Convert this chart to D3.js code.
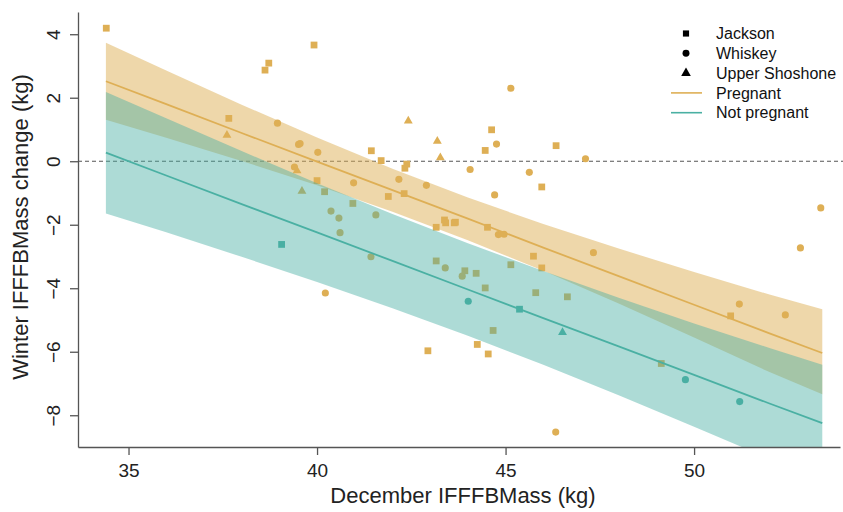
<!DOCTYPE html>
<html>
<head>
<meta charset="utf-8">
<script src="https://cdn.jsdelivr.net/npm/d3@7"></script>
<style>
  html, body { margin: 0; padding: 0; background: #fff; }
  svg { display: block; font-family: "Liberation Sans", Arial, sans-serif; }
</style>
</head>
<body>
<svg id="chart" width="843" height="512"></svg>
<script>
// Individual animals: December mass (x), winter change (y), herd and pregnancy status
const pointX = [
  34.41, 39.92, 38.72, 38.62, 37.66, 37.61, 38.95, 39.51, 39.55, 40.02,
  39.40, 39.47, 40.00, 39.60, 40.20, 40.97, 40.95, 40.37, 40.58, 41.44,
  41.70, 42.17, 41.89, 41.56, 40.61, 41.43, 40.22, 45.14, 42.42, 44.63,
  43.19, 44.76, 44.46, 46.34, 43.27, 47.12, 42.38, 42.33, 44.06, 45.63,
  42.90, 45.96, 44.71, 42.31, 43.38, 43.41, 43.64, 43.67, 43.16, 44.52,
  44.81, 44.96, 45.74, 45.96, 43.16, 43.40, 43.92, 43.85, 44.22, 45.14,
  44.46, 45.80, 46.64, 44.67, 42.94, 44.25, 44.54, 46.33, 47.33, 53.36,
  52.82, 51.20, 50.97, 52.42, 49.13,
  39.06, 44.01, 45.37, 46.51, 49.77, 51.21
];
const pointY = [
  4.19, 3.66, 3.09, 2.87, 1.35, 0.82, 1.20, 0.53, 0.56, 0.28,
  -0.18, -0.30, -0.61, -0.94, -0.96, -0.68, -1.33, -1.57, -1.79, 0.33,
  0.02, -0.57, -1.11, -1.69, -2.25, -3.01, -4.15, 2.30, 1.27, 0.99,
  0.63, 0.54, 0.34, 0.49, 0.11, 0.08, -0.09, -0.22, -0.26, -0.35,
  -0.76, -0.81, -1.06, -1.02, -1.85, -1.94, -1.94, -1.92, -2.08, -2.08,
  -2.31, -2.30, -2.99, -3.36, -3.14, -3.36, -3.45, -3.62, -3.53, -3.26,
  -3.99, -4.14, -4.27, -5.33, -5.97, -5.77, -6.07, -8.53, -2.88, -1.47,
  -2.73, -4.50, -4.87, -4.84, -6.37,
  -2.62, -4.41, -4.66, -5.39, -6.88, -7.57
];
const pointSite = [
  "Jackson", "Jackson", "Jackson", "Jackson", "Jackson", "Upper Shoshone", "Whiskey", "Whiskey", "Whiskey", "Whiskey",
  "Whiskey", "Upper Shoshone", "Jackson", "Upper Shoshone", "Jackson", "Whiskey", "Jackson", "Whiskey", "Whiskey", "Jackson",
  "Jackson", "Whiskey", "Jackson", "Whiskey", "Whiskey", "Whiskey", "Whiskey", "Whiskey", "Upper Shoshone", "Jackson",
  "Upper Shoshone", "Whiskey", "Jackson", "Jackson", "Upper Shoshone", "Whiskey", "Jackson", "Jackson", "Whiskey", "Whiskey",
  "Whiskey", "Jackson", "Whiskey", "Jackson", "Jackson", "Jackson", "Jackson", "Jackson", "Jackson", "Jackson",
  "Whiskey", "Whiskey", "Jackson", "Jackson", "Jackson", "Whiskey", "Jackson", "Whiskey", "Jackson", "Jackson",
  "Jackson", "Jackson", "Jackson", "Jackson", "Jackson", "Jackson", "Jackson", "Whiskey", "Whiskey", "Whiskey",
  "Whiskey", "Whiskey", "Jackson", "Whiskey", "Jackson",
  "Jackson", "Whiskey", "Jackson", "Upper Shoshone", "Whiskey", "Whiskey"
];
const pointStatus = [
  ...Array(75).fill("Pregnant"),
  ...Array(6).fill("Not pregnant")
];

// Fitted lines and confidence bands
const bandX = [34.4, 36, 38, 40, 42, 44, 46, 48, 50, 52, 53.4];
const pregFit = [2.52, 1.80, 0.89, -0.01, -0.91, -1.81, -2.72, -3.62, -4.52, -5.42, -6.04];
const pregUpper = [3.73, 2.86, 1.78, 0.75, -0.24, -1.14, -1.98, -2.75, -3.49, -4.20, -4.66];
const pregLower = [1.31, 0.74, 0.01, -0.76, -1.59, -2.49, -3.45, -4.48, -5.55, -6.64, -7.34];
const notPregFit = [0.27, -0.45, -1.35, -2.24, -3.14, -4.04, -4.94, -5.83, -6.73, -7.63, -8.25];
const notPregUpper = [2.18, 1.35, 0.32, -0.69, -1.66, -2.58, -3.46, -4.30, -5.11, -5.88, -6.41];
const notPregLower = [-1.65, -2.24, -3.01, -3.80, -4.63, -5.50, -6.41, -7.37, -8.36, -9.37, -10.10];

const xTicks = [35, 40, 45, 50];
const yTicks = [4, 2, 0, -2, -4, -6, -8];
const siteNames = ["Jackson", "Whiskey", "Upper Shoshone"];
const statusNames = ["Pregnant", "Not pregnant"];

const statusColor = { "Pregnant": "#DEAF55", "Not pregnant": "#4AB0A3" };
const siteSymbol = { "Jackson": d3.symbolSquare, "Whiskey": d3.symbolCircle, "Upper Shoshone": d3.symbolTriangle };
const siteSize = { "Jackson": 46, "Whiskey": 40, "Upper Shoshone": 34 };

const svg = d3.select("#chart");
const plotLeft = 78, plotRight = 840, plotTop = 12, plotBottom = 447;

const x = d3.scaleLinear().domain([33.66, 53.87]).range([plotLeft, plotRight]);
const y = d3.scaleLinear().domain([-9.0, 4.70]).range([plotBottom, plotTop]);

svg.append("defs").append("clipPath").attr("id", "plotClip")
  .append("rect").attr("x", plotLeft).attr("y", plotTop)
  .attr("width", 843 - plotLeft).attr("height", plotBottom - plotTop);

const plot = svg.append("g").attr("clip-path", "url(#plotClip)");

// Reference line at zero change
plot.append("line")
  .attr("x1", plotLeft).attr("x2", 843)
  .attr("y1", y(0)).attr("y2", y(0))
  .attr("stroke", "#555").attr("stroke-width", 1.1)
  .attr("stroke-dasharray", "4,3");

// Animals (drawn beneath the translucent bands)
const points = pointX.map((v, i) => ({ x: v, y: pointY[i], site: pointSite[i], status: pointStatus[i] }));
plot.append("g").selectAll("path").data(points).join("path")
  .attr("transform", d => `translate(${x(d.x)},${y(d.y)})`)
  .attr("d", d => d3.symbol().type(siteSymbol[d.site]).size(siteSize[d.site])())
  .attr("fill", d => statusColor[d.status]);

const area = (lo, hi) => d3.area()
  .x((d, i) => x(bandX[i]))
  .y0((d, i) => y(lo[i]))
  .y1((d, i) => y(hi[i]));
const line = fit => d3.line().x((d, i) => x(bandX[i])).y((d, i) => y(fit[i]));

plot.append("path").datum(bandX).attr("d", area(pregLower, pregUpper))
  .attr("fill", statusColor["Pregnant"]).attr("fill-opacity", 0.5);
plot.append("path").datum(bandX).attr("d", area(notPregLower, notPregUpper))
  .attr("fill", statusColor["Not pregnant"]).attr("fill-opacity", 0.45);

plot.append("path").datum(bandX).attr("d", line(pregFit))
  .attr("fill", "none").attr("stroke", statusColor["Pregnant"]).attr("stroke-width", 1.8);
plot.append("path").datum(bandX).attr("d", line(notPregFit))
  .attr("fill", "none").attr("stroke", statusColor["Not pregnant"]).attr("stroke-width", 1.8);

// Axes
const xAxis = svg.append("g").attr("transform", `translate(0,${plotBottom})`)
  .call(d3.axisBottom(x).tickValues(xTicks).tickSize(8).tickSizeOuter(0).tickFormat(d3.format("d")));
xAxis.selectAll("text").attr("y", 30).attr("dy", 0)
  .attr("font-size", 19).attr("fill", "#222").style("font-family", "Liberation Sans, Arial, sans-serif");

const yAxis = svg.append("g").attr("transform", `translate(${plotLeft},0)`)
  .call(d3.axisLeft(y).tickValues(yTicks).tickSize(8).tickSizeOuter(0)
    .tickFormat(d => d < 0 ? "\u2212" + Math.abs(d) : String(d)));
yAxis.selectAll("text")
  .attr("x", 0).attr("y", 0).attr("dy", 0)
  .attr("text-anchor", "middle")
  .attr("transform", "translate(-18,0) rotate(-90)")
  .attr("font-size", 19).attr("fill", "#222").style("font-family", "Liberation Sans, Arial, sans-serif");

[xAxis, yAxis].forEach(g => {
  g.selectAll("path.domain").attr("stroke", "#555").attr("stroke-width", 1.3);
  g.selectAll(".tick line").attr("stroke", "#555").attr("stroke-width", 1.3);
});

// Axis titles
svg.append("text")
  .attr("x", 463).attr("y", 503)
  .attr("text-anchor", "middle").attr("font-size", 22).attr("fill", "#222")
  .text("December IFFFBMass (kg)");
svg.append("text")
  .attr("transform", "translate(28,227) rotate(-90)")
  .attr("text-anchor", "middle").attr("font-size", 22).attr("fill", "#222")
  .text("Winter IFFFBMass change (kg)");

// Legend
const legend = svg.append("g");
const rowY = i => 33.5 + i * 19.8;
siteNames.forEach((s, i) => {
  legend.append("path")
    .attr("transform", `translate(686,${rowY(i)})`)
    .attr("d", d3.symbol().type(siteSymbol[s]).size(s === "Upper Shoshone" ? 40 : 38)())
    .attr("fill", "#000");
  legend.append("text").attr("x", 716).attr("y", rowY(i)).attr("dy", "0.35em")
    .attr("font-size", 16).attr("fill", "#111").text(s);
});
statusNames.forEach((s, j) => {
  const i = j + siteNames.length;
  legend.append("line")
    .attr("x1", 671).attr("x2", 702).attr("y1", rowY(i)).attr("y2", rowY(i))
    .attr("stroke", statusColor[s]).attr("stroke-width", 1.6);
  legend.append("text").attr("x", 716).attr("y", rowY(i)).attr("dy", "0.35em")
    .attr("font-size", 16).attr("fill", "#111").text(s);
});
</script>
</body>
</html>
